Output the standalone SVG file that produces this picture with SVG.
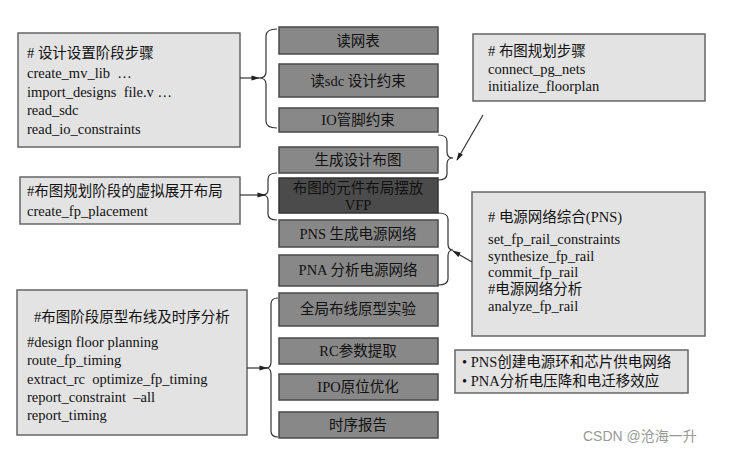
<svg xmlns="http://www.w3.org/2000/svg" width="729" height="456" viewBox="0 0 729 456">
<style>
text{font-family:"Liberation Serif","Noto Sans CJK SC",serif;fill:#111;white-space:pre}
.lb{fill:#e3e3e3;stroke:#666;stroke-width:1.5}
.cb{fill:#888;stroke:#4a4a4a;stroke-width:1.5}
.dk{fill:#4b4b4b;stroke:#333;stroke-width:1.5}
.t{font-size:14.5px}
.c{font-size:14.5px;text-anchor:middle}
.br{fill:none;stroke:#333;stroke-width:1.2}
.ar{stroke:#333;stroke-width:1.2;fill:none;marker-end:url(#a)}
</style>
<defs><marker id="a" viewBox="0 0 10 10" refX="9" refY="5" markerWidth="7" markerHeight="7" orient="auto"><path d="M0,2 L10,5 L0,8 Z" fill="#222"/></marker></defs>
<rect width="729" height="456" fill="#fff"/>
<g id="setup"><rect class="lb" x="18" y="33" width="222" height="114"/>
<text class="t" x="27" y="58"># 设计设置阶段步骤</text><text class="t" x="27" y="78">create_mv_lib  …</text><text class="t" x="27" y="97">import_designs  file.v …</text><text class="t" x="27" y="115">read_sdc</text><text class="t" x="27" y="134">read_io_constraints</text></g>
<g id="vfpnote"><rect class="lb" x="20" y="177" width="220" height="47"/>
<text class="t" x="27" y="196">#布图规划阶段的虚拟展开布局</text><text class="t" x="27" y="216">create_fp_placement</text></g>
<g id="timingnote"><rect class="lb" x="17" y="290" width="230" height="145"/>
<text class="t" x="34" y="322">#布图阶段原型布线及时序分析</text><text class="t" x="27" y="347">#design floor planning</text><text class="t" x="27" y="365">route_fp_timing</text><text class="t" x="27" y="384">extract_rc  optimize_fp_timing</text><text class="t" x="27" y="402">report_constraint  –all</text><text class="t" x="27" y="420">report_timing</text></g>
<g id="fpnote"><rect class="lb" x="473" y="34" width="232" height="67"/>
<text class="t" x="488" y="56"># 布图规划步骤</text><text class="t" x="488" y="74">connect_pg_nets</text><text class="t" x="488" y="91">initialize_floorplan</text></g>
<g id="pnsnote"><rect class="lb" x="472" y="192" width="233" height="144"/>
<text class="t" x="488" y="222"># 电源网络综合(PNS)</text><text class="t" x="488" y="244">set_fp_rail_constraints</text><text class="t" x="488" y="261">synthesize_fp_rail</text><text class="t" x="488" y="277">commit_fp_rail</text><text class="t" x="488" y="294">#电源网络分析</text><text class="t" x="488" y="311">analyze_fp_rail</text></g>
<g id="bullets"><rect class="lb" x="455" y="350" width="233" height="43"/>
<text class="t" x="462" y="367">• PNS创建电源环和芯片供电网络</text><text class="t" x="462" y="386">• PNA分析电压降和电迁移效应</text></g>
<g id="n1"><rect class="cb" x="279" y="27" width="159" height="27"/><text class="c" x="358" y="46">读网表</text></g>
<g id="n2"><rect class="cb" x="279" y="64" width="159" height="33"/><text class="c" x="358" y="86">读sdc 设计约束</text></g>
<g id="n3"><rect class="cb" x="279" y="108" width="159" height="24"/><text class="c" x="358" y="125">IO管脚约束</text></g>
<g id="n4"><rect class="cb" x="279" y="147" width="159" height="26"/><text class="c" x="358" y="165">生成设计布图</text></g>
<g id="n5"><rect class="dk" x="279" y="178" width="159" height="35"/><text class="c" x="358" y="193">布图的元件布局摆放</text><text class="c" x="358" y="210">VFP</text></g>
<g id="n6"><rect class="cb" x="279" y="220" width="159" height="27"/><text class="c" x="358" y="239">PNS 生成电源网络</text></g>
<g id="n7"><rect class="cb" x="279" y="255" width="159" height="31"/><text class="c" x="358" y="275">PNA 分析电源网络</text></g>
<g id="n8"><rect class="cb" x="279" y="293" width="159" height="33"/><text class="c" x="358" y="314">全局布线原型实验</text></g>
<g id="n9"><rect class="cb" x="279" y="338" width="159" height="26"/><text class="c" x="358" y="356">RC参数提取</text></g>
<g id="n10"><rect class="cb" x="279" y="374" width="159" height="26"/><text class="c" x="358" y="392">IPO原位优化</text></g>
<g id="n11"><rect class="cb" x="279" y="412" width="159" height="26"/><text class="c" x="358" y="430">时序报告</text></g>
<g id="connectors">
<path class="br" d="M277,29 Q266,29 266,36 L266,72 Q266,78 259,78 Q266,78 266,84 L266,121 Q266,128 277,128"/>
<path class="ar" d="M240,78 L259,78"/>
<path class="br" d="M438,135 Q447,135 447,141 L447,152 Q447,158 453,158 Q447,158 447,164 L447,174 Q447,180 438,180"/>
<path class="ar" d="M483,115 L457,160"/>
<path class="br" d="M277,173 Q268,173 268,179 L268,190 Q268,195 262,195 Q268,195 268,200 L268,214 Q268,220 277,220"/>
<path class="ar" d="M240,195 L265,195"/>
<path class="br" d="M438,213 Q448,213 448,219 L448,244 Q448,250 453,250 Q448,250 448,256 L448,279 Q448,285 438,285"/>
<path class="ar" d="M472,262 L453,251"/>
<path class="br" d="M278,298 Q271,298 271,304 L271,362 Q271,368 266,368 Q271,368 271,374 L271,431 Q271,437 278,437"/>
<path class="ar" d="M247,368 L267,368"/>
</g>
<text x="583" y="441" style="font-family:'Liberation Sans','Noto Sans CJK SC',sans-serif;font-size:14px;fill:#999">CSDN @沧海一升</text>
</svg>
